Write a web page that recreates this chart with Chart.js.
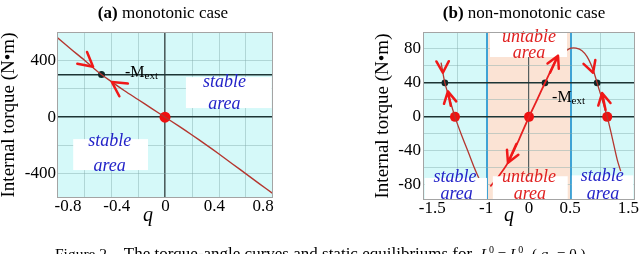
<!DOCTYPE html>
<html><head><meta charset="utf-8">
<script src="https://cdn.jsdelivr.net/npm/chart.js@4"></script>
<style>
html,body{margin:0;padding:0;background:#fff;}
body{width:640px;height:254px;position:relative;overflow:hidden;font-family:'Liberation Serif','Times New Roman',serif;color:#000;}
.pane{position:absolute;top:0;width:320px;height:254px;}
.title{position:absolute;top:4px;font-size:17px;line-height:17px;white-space:nowrap;transform:translateX(-50%);}
.q{position:absolute;font-style:italic;font-size:20px;line-height:20px;top:204px;transform:translateX(-50%);}
.cap{position:absolute;left:55px;top:245px;font-size:17px;line-height:17px;white-space:pre;}
.cap .fig{font-size:15.5px;}
.cap .m{font-size:15px;}
.cap sup,.cap sub{font-size:10px;line-height:0;}
</style></head>
<body>
<div class="pane" style="left:0"><canvas id="ca"></canvas></div>
<div class="pane" style="left:320px"><canvas id="cb"></canvas></div>
<div class="title" style="left:163px"><b>(a)</b> monotonic case</div>
<div class="title" style="left:524px"><b>(b)</b> non-monotonic case</div>
<div class="q" style="left:148px">q</div>
<div class="q" style="left:509px">q</div>
<div class="cap"><span class="fig">Figure 2</span>    The torque-angle curves and static equilibriums for  <span class="m"><i>L</i><sup>0</sup> = <i>L</i><sup>0</sup><sub>0</sub> ( <i>q</i><sub>0</sub> = 0 )</span></div>
<script>
// ---------- (a) monotonic case ----------
const aQ      = [-0.8,-0.7,-0.6,-0.5,-0.4,-0.3,-0.2,-0.1,0,0.1,0.2,0.3,0.4,0.5,0.6,0.7,0.8];
const aTorque = [562,482,404,322,252,186,124,62,0,-62,-126,-192,-260,-330,-400,-470,-540];
const aEquilQ = [0],     aEquilT = [0];
const aExtQ   = [-0.47], aExtT   = [300];
const aMext   = 300;
const aXTickLabels = ['-0.8','-0.4','0','0.4','0.8'];
const aXTickVals   = [-0.8,-0.4,0,0.4,0.8];
const aYTickVals   = [-400,0,400];

// ---------- (b) non-monotonic case ----------
const bLeftQ  = [-1.045,-1.0,-0.94,-0.88,-0.8,-0.72,-0.65,-0.58];
const bLeftT  = [64,40,20,0,-22,-42,-60,-76];
const bMidQ   = [-0.46,-0.36,-0.25,-0.12,0,0.1,0.19,0.28,0.36];
const bMidT   = [-82,-70,-54,-27,0,21,40,59,75];
const bRightQ = [0.44,0.5,0.56,0.63,0.69,0.74,0.78,0.81,0.87,0.93,0.99,1.05,1.09];
const bRightT = [78,81,81,78,71,61,50,40,20,0,-25,-51,-64];
const bEquilQ = [-0.88,0,0.93], bEquilT = [0,0,0];
const bExtQ   = [-1.0,0.19,0.81], bExtT = [40,40,40];
const bMext   = 40;
const bXTickLabels = ['-1.5','-1','0','0.5','1.5'];
const bYTickVals   = [-80,-40,0,40,80];

const SERIF = "'Liberation Serif','Times New Roman',serif";
Chart.defaults.font.family = SERIF;
Chart.defaults.color = '#000';
Chart.defaults.animation = false;

const pts = (xs, ys) => xs.map((v, i) => ({x: v, y: ys[i]}));

function makeDeco(o) {
  return {
    id: 'deco',
    beforeDraw(chart) {
      const {ctx, chartArea: a} = chart; const x = chart.scales.x;
      ctx.save();
      ctx.fillStyle = o.bg; ctx.fillRect(a.left, a.top, a.width, a.height);
      for (const b of o.bands || []) {
        const x0 = x.getPixelForValue(b.q0), x1 = x.getPixelForValue(b.q1);
        ctx.fillStyle = b.color; ctx.fillRect(x0, a.top, x1 - x0, a.height);
      }
      ctx.restore();
    },
    afterDatasetsDraw(chart) {
      const {ctx} = chart; const x = chart.scales.x, y = chart.scales.y;
      const px = v => x.getPixelForValue(v), py = v => y.getPixelForValue(v);
      ctx.save();
      ctx.fillStyle = '#fff';
      for (const b of o.boxes) { const l = px(b.q0), r = px(b.q1), t = py(b.t1), bt = py(b.t0); ctx.fillRect(l, t, r - l, bt - t); }
      ctx.textAlign = 'center'; ctx.textBaseline = 'middle';
      ctx.font = 'italic 18px ' + SERIF;
      for (const n of o.notes) { ctx.fillStyle = n.color; ctx.fillText(n.text, px(n.q), py(n.t)); }
      const m = o.mext; ctx.fillStyle = '#000'; ctx.textAlign = 'left'; ctx.textBaseline = 'alphabetic';
      ctx.font = '16px ' + SERIF; const X = px(m.q), Y = py(m.t); ctx.fillText('-M', X, Y);
      const w = ctx.measureText('-M').width; ctx.font = '11px ' + SERIF; ctx.fillText('ext', X + w, Y + 2);
      ctx.strokeStyle = '#f01818'; ctx.lineCap = 'round'; ctx.lineJoin = 'round';
      for (const ar of o.arrows) {
        const tx = px(ar.tip[0]), ty = py(ar.tip[1]), fx = px(ar.from[0]), fy = py(ar.from[1]);
        const ang = Math.atan2(ty - fy, tx - fx);
        ctx.lineWidth = ar.w || 2.5;
        ctx.beginPath();
        if (ar.shaft) { ctx.moveTo(fx, fy); ctx.lineTo(tx, ty); }
        ctx.moveTo(tx - ar.len * Math.cos(ang - ar.spread), ty - ar.len * Math.sin(ang - ar.spread));
        ctx.lineTo(tx, ty);
        ctx.lineTo(tx - ar.len * Math.cos(ang + ar.spread), ty - ar.len * Math.sin(ang + ar.spread));
        ctx.stroke();
      }
      ctx.restore();
    },
    afterDraw(chart) {
      const {ctx, chartArea: a} = chart; ctx.save();
      ctx.strokeStyle = '#a4a4a4'; ctx.lineWidth = 1;
      ctx.strokeRect(a.left + 0.5, a.top + 0.5, a.width - 1, a.height - 1); ctx.restore();
    }
  };
}

const FAINT = 'rgba(130,170,170,0.45)', DARK = '#1d3535';
const tickFont = {size: 17, lineHeight: 1};

function yTitle() { return {display: true, text: 'Internal torque (N\u2022m)', font: {size: 19, lineHeight: 1}, padding: 0, color: '#000'}; }

// ---------- chart (a) ----------
new Chart(document.getElementById('ca'), {
  type: 'scatter',
  data: {datasets: [
    {data: pts(aQ, aTorque), showLine: true, borderColor: '#b5362f', borderWidth: 1.4, pointRadius: 0, tension: 0.3},
    {data: pts(aEquilQ, aEquilT), pointRadius: 5.5, pointBackgroundColor: '#ee1111', pointBorderWidth: 0},
    {data: pts(aExtQ, aExtT), pointRadius: 3.5, pointBackgroundColor: '#102828', pointBorderWidth: 0}
  ]},
  options: {
    responsive: true, maintainAspectRatio: false, animation: false,
    layout: {padding: {left: 0, right: 47, top: 32, bottom: 0}},
    plugins: {legend: {display: false}, tooltip: {enabled: false}},
    scales: {
      x: {type: 'linear', position: 'bottom', min: -0.8, max: 0.8,
        afterBuildTicks: s => { s.ticks = [-0.6,-0.4,-0.2,0,0.2,0.4,0.6].map(v => ({value: v})); },
        ticks: {display: false},
        grid: {drawTicks: false, color: c => c.tick && c.tick.value === 0 ? '#4d5e5e' : FAINT, lineWidth: c => c.tick && c.tick.value === 0 ? 1.6 : 1},
        border: {display: false}, afterFit: s => { s.height = 0; }},
      xl: {type: 'linear', position: 'bottom', min: -0.89, max: 0.88,
        afterBuildTicks: s => { s.ticks = aXTickVals.map(v => ({value: v})); },
        ticks: {callback: (v, i) => aXTickLabels[i], font: tickFont, padding: 0, maxRotation: 0, autoSkip: false, color: '#000'},
        grid: {display: false, drawTicks: false}, border: {display: false}, afterFit: s => { s.height = 56; }},
      y: {type: 'linear', position: 'left', min: -570, max: 600,
        afterBuildTicks: s => { s.ticks = [-400,-200,0,200,aMext,400].map(v => ({value: v})); },
        ticks: {callback: v => aYTickVals.includes(v) ? String(v) : '', font: tickFont, padding: 1, autoSkip: false, color: '#000'},
        grid: {drawTicks: false, color: c => c.tick && (c.tick.value === 0 || c.tick.value === aMext) ? DARK : FAINT,
               lineWidth: c => c.tick && (c.tick.value === 0 || c.tick.value === aMext) ? 1.6 : 1},
        border: {display: false}, title: yTitle(), afterFit: s => { s.width = 57; }}
    }
  },
  plugins: [makeDeco({
    bg: '#d5f9f9',
    boxes: [{q0: 0.155, q1: 0.79, t0: 64, t1: 282}, {q0: -0.68, q1: -0.126, t0: -373, t1: -155}],
    notes: [
      {text: 'stable', q: 0.44, t: 246, color: '#2323c8'}, {text: 'area', q: 0.44, t: 92, color: '#2323c8'},
      {text: 'stable', q: -0.41, t: -169, color: '#2323c8'}, {text: 'area', q: -0.41, t: -345, color: '#2323c8'}
    ],
    mext: {q: -0.296, t: 283},
    arrows: [
      {tip: [-0.533, 355], from: [-0.7, 485], len: 16, spread: 0.5},
      {tip: [-0.393, 247], from: [-0.2, 124], len: 16, spread: 0.5}
    ]
  })]
});

// ---------- chart (b) ----------
new Chart(document.getElementById('cb'), {
  type: 'scatter',
  data: {datasets: [
    {data: pts(bLeftQ, bLeftT), showLine: true, borderColor: '#b5362f', borderWidth: 1.3, pointRadius: 0, tension: 0.3},
    {data: pts(bMidQ, bMidT), showLine: true, borderColor: '#e82020', borderWidth: 1.8, pointRadius: 0, tension: 0.3},
    {data: pts(bRightQ, bRightT), showLine: true, borderColor: '#b5362f', borderWidth: 1.3, pointRadius: 0, tension: 0.35},
    {data: pts(bEquilQ, bEquilT), pointRadius: 5, pointBackgroundColor: '#ee1111', pointBorderWidth: 0},
    {data: pts(bExtQ, bExtT), pointRadius: 3.3, pointBackgroundColor: '#102828', pointBorderWidth: 0}
  ]},
  options: {
    responsive: true, maintainAspectRatio: false, animation: false,
    layout: {padding: {left: 54, right: 5, top: 32, bottom: 0}},
    plugins: {legend: {display: false}, tooltip: {enabled: false}},
    scales: {
      x: {type: 'linear', position: 'bottom', min: -1.26, max: 1.26,
        afterBuildTicks: s => { s.ticks = [-0.85,-0.5,0,0.5,0.85].map(v => ({value: v})); },
        ticks: {display: false},
        grid: {drawTicks: false,
               color: c => !c.tick ? FAINT : (c.tick.value === 0 ? '#555f5f' : (Math.abs(c.tick.value) === 0.5 ? '#3fa2d4' : FAINT)),
               lineWidth: c => !c.tick ? 1 : (c.tick.value === 0 ? 1.2 : (Math.abs(c.tick.value) === 0.5 ? 2 : 1))},
        border: {display: false}, afterFit: s => { s.height = 0; }},
      xl: {type: 'linear', position: 'bottom', min: -1.26, max: 1.26,
        afterBuildTicks: s => { s.ticks = [-1.15,-0.51,0,0.49,1.18].map(v => ({value: v})); },
        ticks: {callback: (v, i) => bXTickLabels[i], font: tickFont, padding: 0, maxRotation: 0, autoSkip: false, color: '#000'},
        grid: {display: false, drawTicks: false}, border: {display: false}, afterFit: s => { s.height = 54; }},
      y: {type: 'linear', position: 'left', min: -98, max: 100,
        afterBuildTicks: s => { s.ticks = [-80,-60,-40,-20,0,20,40,60,80].map(v => ({value: v})); },
        ticks: {callback: v => bYTickVals.includes(v) ? String(v) : '', font: tickFont, padding: 2, autoSkip: false, color: '#000'},
        grid: {drawTicks: false, color: c => c.tick && (c.tick.value === 0 || c.tick.value === bMext) ? DARK : FAINT,
               lineWidth: c => c.tick && (c.tick.value === 0 || c.tick.value === bMext) ? 1.6 : 1},
        border: {display: false}, title: yTitle(), afterFit: s => { s.width = 49; }}
    }
  },
  plugins: [makeDeco({
    bg: '#d5f9f9',
    bands: [{q0: -0.5, q1: 0.5, color: '#fbe3d4'}],
    boxes: [
      {q0: -0.464, q1: 0.452, t0: 70.5, t1: 100},
      {q0: -1.24, q1: -0.5, t0: -98, t1: -72},
      {q0: -0.43, q1: 0.46, t0: -98, t1: -70},
      {q0: 0.51, q1: 1.24, t0: -98, t1: -69}
    ],
    notes: [
      {text: 'untable', q: 0, t: 94, color: '#e02020'}, {text: 'area', q: 0, t: 75, color: '#e02020'},
      {text: 'stable', q: -0.88, t: -71, color: '#2323c8'}, {text: 'area', q: -0.86, t: -91, color: '#2323c8'},
      {text: 'untable', q: 0, t: -71, color: '#e02020'}, {text: 'area', q: 0.01, t: -91, color: '#e02020'},
      {text: 'stable', q: 0.87, t: -70, color: '#2323c8'}, {text: 'area', q: 0.88, t: -91, color: '#2323c8'}
    ],
    mext: {q: 0.274, t: 17.5},
    arrows: [
      {tip: [-1.024, 52], from: [-1.03, 80], len: 13, spread: 0.5},
      {tip: [-0.964, 30], from: [-0.93, 13], len: 13, spread: 0.5, shaft: true},
      {tip: [0.762, 52], from: [0.70, 70], len: 13, spread: 0.5},
      {tip: [0.869, 28], from: [0.91, 8], len: 13, spread: 0.5, shaft: true},
      {tip: [0.345, 72], from: [0.25, 52], len: 13, spread: 0.5, shaft: true},
      {tip: [-0.25, -54], from: [-0.15, -32], len: 13, spread: 0.5, shaft: true}
    ]
  })]
});
</script>
</body></html>
